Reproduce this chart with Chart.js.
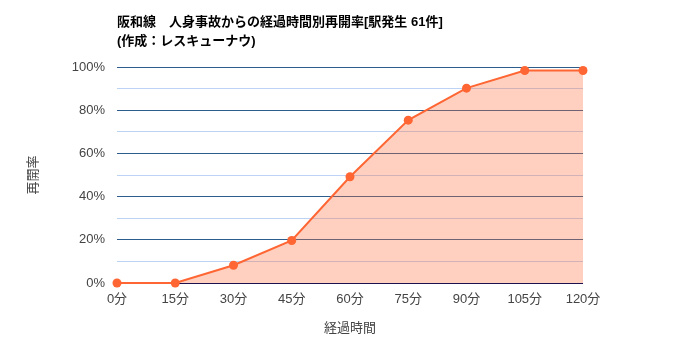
<!DOCTYPE html>
<html>
<head>
<meta charset="utf-8">
<script src="https://cdn.jsdelivr.net/npm/chart.js@4"></script>
<style>
  html, body { margin: 0; padding: 0; background: #fff; }
  #wrap { width: 700px; height: 350px; }
</style>
</head>
<body>
<div id="wrap"><canvas id="reopenChart"></canvas></div>
<script>
const titleLines = ['阪和線　人身事故からの経過時間別再開率[駅発生 61件]', '(作成：レスキューナウ)'];
const minutes = ['0分', '15分', '30分', '45分', '60分', '75分', '90分', '105分', '120分'];
const reopenRate = [0, 0, 8.2, 19.7, 49.2, 75.4, 90.2, 98.4, 98.4];
const yTicks = [0, 20, 40, 60, 80, 100];

const FONT = 'Arial, "Liberation Sans", "Noto Sans CJK JP", sans-serif';

// draws the two-line title aligned to the plot's left edge
const titlePlugin = {
    id: 'leftTitle',
    afterDraw(chart) {
        const ctx = chart.ctx;
        ctx.save();
        ctx.fillStyle = '#000';
        ctx.font = 'bold 13px ' + FONT;
        ctx.textBaseline = 'middle';
        ctx.textAlign = 'left';
        titleLines.forEach((line, i) => {
            ctx.fillText(line, chart.chartArea.left, 22 + i * 19);
        });
        ctx.restore();
    }
};

const ctx = document.getElementById('reopenChart').getContext('2d');
new Chart(ctx, {
    type: 'line',
    data: {
        labels: minutes,
        datasets: [{
            data: reopenRate,
            borderColor: '#ff6633',
            backgroundColor: 'rgba(255, 110, 60, 0.32)',
            borderWidth: 2,
            fill: 'origin',
            tension: 0,
            clip: false,
            pointRadius: 4.5,
            pointHoverRadius: 5,
            pointBackgroundColor: '#ff6633',
            pointBorderWidth: 0
        }]
    },
    plugins: [titlePlugin],
    options: {
        responsive: true,
        maintainAspectRatio: false,
        animation: false,
        layout: { padding: { left: 20, right: 117, top: 67, bottom: 10 } },
        plugins: {
            legend: { display: false },
            title: { display: false },
            tooltip: { enabled: false }
        },
        scales: {
            x: {
                offset: false,
                grid: { display: false },
                border: { display: false },
                ticks: {
                    color: '#444',
                    font: { family: FONT, size: 13 },
                    maxRotation: 0,
                    autoSkip: false,
                    padding: 1
                },
                title: {
                    display: true,
                    text: '経過時間',
                    color: '#444',
                    font: { family: FONT, size: 13 },
                    padding: { top: 14, bottom: 4 }
                },
                afterFit(scale) { scale.height = 57; }
            },
            y: {
                min: 0,
                max: 100,
                border: { display: false },
                grid: {
                    drawTicks: false,
                    lineWidth: 1,
                    color(c) {
                        const v = c.tick.value;
                        if (v === 0) return '#1d1150';
                        return yTicks.includes(v) ? '#2c5d8c' : '#bcd3f5';
                    }
                },
                ticks: {
                    stepSize: 10,
                    color: '#444',
                    font: { family: FONT, size: 13 },
                    padding: 12,
                    callback: v => yTicks.includes(v) ? v + '%' : ''
                },
                title: {
                    display: true,
                    text: '再開率',
                    color: '#444',
                    font: { family: FONT, size: 13 },
                    padding: { top: 6, bottom: 0 }
                },
                afterFit(scale) { scale.width = 97; }
            }
        }
    }
});
</script>
</body>
</html>
